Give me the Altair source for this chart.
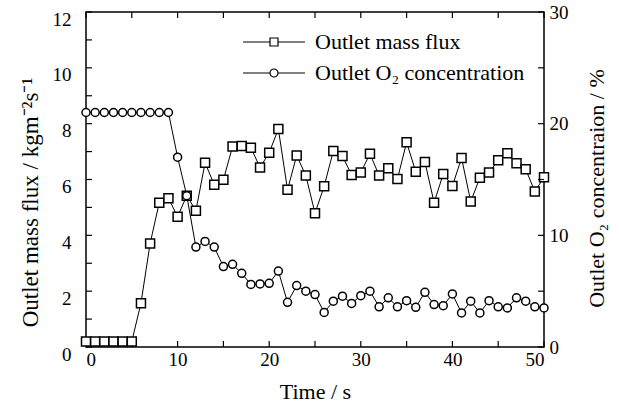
import altair as alt
import pandas as pd

# ---------------- data ----------------
time_s = list(range(51))
mass_flux = [0.2, 0.2, 0.2, 0.2, 0.2, 0.2, 1.57, 3.71, 5.17, 5.33,
             4.67, 5.42, 4.88, 6.6, 5.81, 5.99, 7.18, 7.2, 7.14, 6.43,
             6.96, 7.81, 5.63, 6.86, 6.14, 4.79, 5.76, 7.02, 6.84, 6.16,
             6.25, 6.92, 6.14, 6.4, 6.02, 7.33, 6.28, 6.63, 5.17, 6.2,
             5.77, 6.77, 5.21, 6.06, 6.25, 6.69, 6.94, 6.58, 6.37, 5.57,
             6.08]
o2_conc = [21.0, 21.0, 21.0, 21.0, 21.0, 21.0, 21.0, 21.0, 21.0, 21.0,
           17.0, 13.55, 8.95, 9.45, 8.95, 7.2, 7.4, 6.6, 5.6, 5.65,
           5.7, 6.8, 4.0, 5.5, 5.0, 4.7, 3.1, 4.1, 4.55, 3.9,
           4.6, 5.0, 3.6, 4.4, 3.6, 4.15, 3.55, 4.9, 3.8, 3.7,
           4.75, 3.05, 4.1, 3.05, 4.15, 3.6, 3.5, 4.4, 4.1, 3.6,
           3.5]
series_names = ["Outlet mass flux", "Outlet O\u2082 concentration"]

x_ticks = [0, 5, 10, 15, 20, 25, 30, 35, 40, 45, 50]
x_labels = [0, 10, 20, 30, 40, 50]
left_ticks = [0, 1, 2, 3, 4, 5, 6, 7, 8, 9, 10, 11, 12]
left_labels = [0, 2, 4, 6, 8, 10, 12]
right_ticks = [0, 5, 10, 15, 20, 25, 30]
right_labels = [0, 10, 20, 30]

FONT = "Liberation Serif"
TICK_T = 0.65    # inward tick length in time units
TICK_L = 0.215   # inward tick length in left-axis units

mass_df = pd.DataFrame({"time": time_s, "value": mass_flux})
o2_df = pd.DataFrame({"time": time_s, "value": o2_conc})

# ---------------- encodings ----------------
x_enc = alt.X("time:Q", scale=alt.Scale(domain=[0, 50], nice=False, zero=False),
              axis=alt.Axis(values=x_labels, tickSize=0, domain=False, grid=False,
                            labelPadding=3, labelFontSize=19, labelFont=FONT,
                            labelColor="black", format="d",
                            title="Time / s", titleFont=FONT, titleFontSize=22,
                            titleFontWeight="normal", titleColor="black",
                            titleY=44, titleBaseline="middle"))
yl_enc = alt.Y("value:Q", scale=alt.Scale(domain=[0, 12], nice=False),
               axis=alt.Axis(values=left_labels, tickSize=0, domain=False, grid=False,
                             labelPadding=15, labelOffset=7, labelFontSize=19,
                             labelFont=FONT, labelColor="black", format="d",
                             title="Outlet mass flux / kgm\u207b\u00b2s\u207b\u00b9",
                             titleFont=FONT, titleFontSize=23, titleFontWeight="normal",
                             titleColor="black", titleAngle=270, titleX=-56, titleY=190,
                             titleAlign="center", titleBaseline="middle"))
yr_enc = alt.Y("value:Q", scale=alt.Scale(domain=[0, 30], nice=False),
               axis=alt.Axis(orient="right", values=right_labels, tickSize=0, domain=False,
                             grid=False, labelPadding=5, labelFontSize=19, labelFont=FONT,
                             labelColor="black", format="d",
                             title="Outlet O\u2082 concentraion / %",
                             titleFont=FONT, titleFontSize=22, titleFontWeight="normal",
                             titleColor="black", titleAngle=270, titleX=52, titleY=176,
                             titleAlign="center", titleBaseline="middle"))

# ---------------- left group ----------------
mass_line = alt.Chart(mass_df).mark_line(color="black", strokeWidth=1).encode(x=x_enc, y=yl_enc)
mass_pts = alt.Chart(mass_df).mark_point(shape="square", size=81, filled=True, fill="white",
                                          stroke="black", strokeWidth=1.5, opacity=1).encode(x=x_enc, y=yl_enc)

lt_df = pd.DataFrame({"time": [0] * len(left_ticks), "time2": [TICK_T] * len(left_ticks),
                      "value": left_ticks, "value2": left_ticks})
bt_df = pd.DataFrame({"time": x_ticks, "time2": x_ticks,
                      "value": [0] * len(x_ticks), "value2": [TICK_L] * len(x_ticks)})
tt_df = pd.DataFrame({"time": x_ticks, "time2": x_ticks,
                      "value": [12] * len(x_ticks), "value2": [12 - TICK_L] * len(x_ticks)})
tick_rules = [alt.Chart(d).mark_rule(color="black", strokeWidth=1.2).encode(
    x=x_enc, x2="time2:Q", y=yl_enc, y2="value2:Q") for d in (lt_df, bt_df, tt_df)]

sq_path = "M-7.75,0H-1M1,0H7.75M-1,-1H1V1H-1Z"
ci_path = "M-7.75,0H-1M1,0H7.75M-1,0A1,1,0,1,1,1,0A1,1,0,1,1,-1,0Z"
legend_df = pd.DataFrame({"series": series_names, "time": [0, 0], "value": [0, 0]})
legend_layer = alt.Chart(legend_df).mark_point(opacity=0, filled=False).encode(
    x=x_enc, y=yl_enc,
    shape=alt.Shape("series:N",
                    scale=alt.Scale(domain=series_names, range=[sq_path, ci_path]),
                    legend=alt.Legend(title=None, orient="none", legendX=177, legendY=19,
                                      symbolSize=64, symbolStrokeColor="black",
                                      symbolFillColor="white", symbolStrokeWidth=1.2,
                                      symbolOpacity=1, labelFontSize=22, labelFont=FONT,
                                      labelColor="black", labelOffset=30, rowPadding=9,
                                      padding=0, labelLimit=400)))

left = alt.layer(mass_line, *tick_rules, mass_pts, legend_layer)

# ---------------- right group ----------------
rt_df = pd.DataFrame({"time": [50 - TICK_T] * len(right_ticks), "time2": [50] * len(right_ticks),
                      "value": right_ticks, "value2": right_ticks})
o2_line = alt.Chart(o2_df).mark_line(color="black", strokeWidth=1).encode(x=x_enc, y=yr_enc)
o2_pts = alt.Chart(o2_df).mark_point(shape="circle", size=64, filled=True, fill="white",
                                      stroke="black", strokeWidth=1.5, opacity=1).encode(x=x_enc, y=yr_enc)
rt_rule = alt.Chart(rt_df).mark_rule(color="black", strokeWidth=1.2).encode(
    x=x_enc, x2="time2:Q", y=yr_enc, y2="value2:Q")

right = alt.layer(o2_line, rt_rule, o2_pts)

chart = alt.layer(left, right).resolve_scale(y="independent").properties(
    width=458, height=335,
    padding={"left": 86, "top": 12, "right": 75, "bottom": 65},
    autosize=alt.AutoSizeParams(type="none"),
    background="white",
).configure(font=FONT).configure_view(stroke="black", strokeWidth=1.5)

chart.save("out.html", embed_options={"renderer": "svg", "actions": False})
